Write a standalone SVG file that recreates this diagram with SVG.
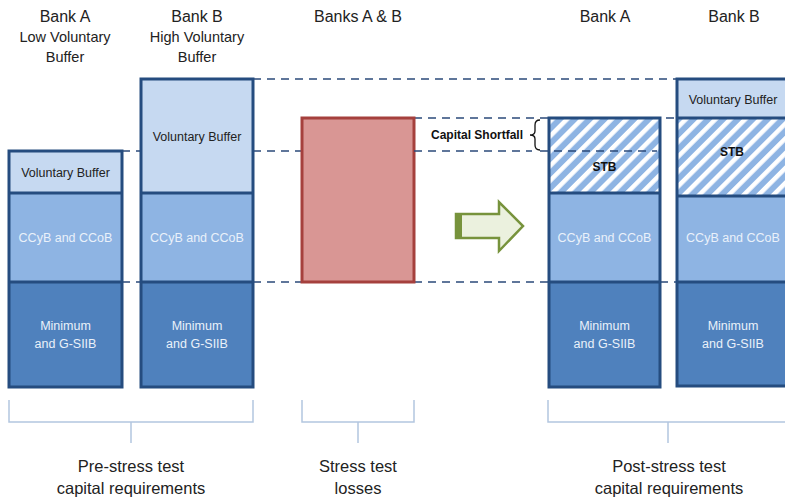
<svg xmlns="http://www.w3.org/2000/svg" width="785" height="497" viewBox="0 0 785 497">
<style>
  text{font-family:"Liberation Sans",Arial,sans-serif}
  .hdr{font-size:16px;fill:#222;text-anchor:middle}
  .sub{font-size:14.5px;fill:#222;text-anchor:middle}
  .vb{fill:#C6D9F1}
  .cc{fill:#8EB4E3}
  .mn{fill:#4F81BD}
  .frame{fill:none;stroke:#254C7F;stroke-width:3}
  .div{stroke:#254C7F;stroke-width:3}
  .tdark{font-size:12.5px;fill:#222;text-anchor:middle}
  .tw{font-size:12.5px;fill:#EAF1FA;text-anchor:middle}
  .tb{font-size:12px;fill:#111;text-anchor:middle;font-weight:bold}
  .dash{stroke:#2B4A7A;stroke-width:1.5;stroke-dasharray:8 6;fill:none}
  .brk{stroke:#B3C6E0;stroke-width:1.5;fill:none}
  .lab{font-size:16.5px;fill:#222;text-anchor:middle}
</style>
<defs>
  <pattern id="hatch" patternUnits="userSpaceOnUse" width="10.5" height="10.5" patternTransform="rotate(45)">
    <rect width="10.5" height="10.5" fill="#8EB4E3"/>
    <rect width="4.5" height="10.5" fill="#FFFFFF"/>
  </pattern>
</defs>

<!-- headers -->
<g id="headers">
  <text class="hdr" x="65" y="22">Bank A</text>
  <text class="sub" x="65" y="42">Low Voluntary</text>
  <text class="sub" x="65" y="62">Buffer</text>
  <text class="hdr" x="197" y="22">Bank B</text>
  <text class="sub" x="197" y="42">High Voluntary</text>
  <text class="sub" x="197" y="62">Buffer</text>
  <text class="hdr" x="358" y="22">Banks A &amp; B</text>
  <text class="hdr" x="605" y="22">Bank A</text>
  <text class="hdr" x="734" y="22">Bank B</text>
</g>

<!-- connectors (dashed reference lines) behind boxes -->
<g id="connectors">
  <line class="dash" x1="253" y1="79" x2="677" y2="79"/>
  <line class="dash" x1="414" y1="118" x2="677" y2="118"/>
  <line class="dash" x1="122" y1="151" x2="141" y2="151"/>
  <line class="dash" x1="253" y1="151" x2="302" y2="151"/>
  <line class="dash" x1="122" y1="282" x2="141" y2="282"/>
  <line class="dash" x1="253" y1="282" x2="302" y2="282"/>
  <line class="dash" x1="414" y1="282" x2="548" y2="282"/>
  <line class="dash" x1="660" y1="282" x2="677" y2="282"/>
</g>

<!-- Bank A pre -->
<g id="bankA-pre">
  <rect class="vb" x="9" y="151" width="113" height="42"/>
  <rect class="cc" x="9" y="193" width="113" height="89"/>
  <rect class="mn" x="9" y="282" width="113" height="105"/>
  <line class="div" x1="9" y1="193" x2="122" y2="193"/>
  <line class="div" x1="9" y1="282" x2="122" y2="282"/>
  <rect class="frame" x="9" y="151" width="113" height="236"/>
  <text class="tdark" x="65.5" y="177">Voluntary Buffer</text>
  <text class="tw" x="65.5" y="242">CCyB and CCoB</text>
  <text class="tw" x="65.5" y="330">Minimum</text>
  <text class="tw" x="65.5" y="348">and G-SIIB</text>
</g>

<!-- Bank B pre -->
<g id="bankB-pre">
  <rect class="vb" x="141" y="79" width="112" height="114"/>
  <rect class="cc" x="141" y="193" width="112" height="89"/>
  <rect class="mn" x="141" y="282" width="112" height="105"/>
  <line class="div" x1="141" y1="193" x2="253" y2="193"/>
  <line class="div" x1="141" y1="282" x2="253" y2="282"/>
  <rect class="frame" x="141" y="79" width="112" height="308"/>
  <text class="tdark" x="197" y="141">Voluntary Buffer</text>
  <text class="tw" x="197" y="242">CCyB and CCoB</text>
  <text class="tw" x="197" y="330">Minimum</text>
  <text class="tw" x="197" y="348">and G-SIIB</text>
</g>

<!-- Stress losses -->
<g id="losses">
  <rect x="302" y="118" width="112" height="164" fill="#D99694" stroke="#A5403D" stroke-width="3"/>
</g>

<!-- Arrow -->
<g id="arrow">
  <path d="M456,214 H499 V202 L523,226 L499,251 V238 H456 Z" fill="#EBF1DE" stroke="#77933C" stroke-width="2.5" stroke-linejoin="miter"/>
  <rect x="456" y="214" width="6" height="24" fill="#77933C"/>
</g>

<!-- Bank A post -->
<g id="bankA-post">
  <rect x="549" y="118" width="111" height="75" fill="url(#hatch)"/>
  <rect class="cc" x="549" y="193" width="111" height="89"/>
  <rect class="mn" x="549" y="282" width="111" height="105"/>
  <line class="div" x1="549" y1="193" x2="660" y2="193"/>
  <line class="div" x1="549" y1="282" x2="660" y2="282"/>
  <rect class="frame" x="549" y="118" width="111" height="269"/>
  <line class="dash" x1="540" y1="151" x2="657" y2="151"/>
  <text class="tb" x="604.5" y="171">STB</text>
  <text class="tw" x="604.5" y="242">CCyB and CCoB</text>
  <text class="tw" x="604.5" y="330">Minimum</text>
  <text class="tw" x="604.5" y="348">and G-SIIB</text>
</g>

<!-- Capital shortfall -->
<g id="shortfall">
  <line class="dash" x1="414" y1="151" x2="532" y2="151"/>
  <path d="M540,120 Q535,120 535,125 V131 Q535,135 530,135 Q535,135 535,139 V145 Q535,150 540,150" fill="none" stroke="#111" stroke-width="1.3"/>
  <text x="523" y="139" font-size="12px" font-weight="bold" fill="#111" text-anchor="end">Capital Shortfall</text>
</g>

<!-- Bank B post -->
<g id="bankB-post">
  <rect class="vb" x="677" y="79" width="120" height="39"/>
  <rect x="677" y="118" width="120" height="78" fill="url(#hatch)"/>
  <rect class="cc" x="677" y="196" width="120" height="86"/>
  <rect class="mn" x="677" y="282" width="120" height="104"/>
  <line class="div" x1="677" y1="118" x2="797" y2="118"/>
  <line class="div" x1="677" y1="196" x2="797" y2="196"/>
  <line class="div" x1="677" y1="282" x2="797" y2="282"/>
  <rect class="frame" x="677" y="79" width="120" height="307"/>
  <text class="tdark" x="733" y="104">Voluntary Buffer</text>
  <text class="tb" x="732" y="156">STB</text>
  <text class="tw" x="733" y="242">CCyB and CCoB</text>
  <text class="tw" x="733" y="330">Minimum</text>
  <text class="tw" x="733" y="348">and G-SIIB</text>
</g>

<!-- bottom brackets and labels -->
<g id="pre-label">
  <path class="brk" d="M9,400 V422 H253 V400 M131,422 V443"/>
  <text class="lab" x="131" y="472">Pre-stress test</text>
  <text class="lab" x="131" y="494">capital requirements</text>
</g>
<g id="loss-label">
  <path class="brk" d="M302,400 V422 H414 V400 M358,422 V443"/>
  <text class="lab" x="358" y="472">Stress test</text>
  <text class="lab" x="358" y="494">losses</text>
</g>
<g id="post-label">
  <path class="brk" d="M548,400 V422 H790 M668,422 V443"/>
  <text class="lab" x="669" y="472">Post-stress test</text>
  <text class="lab" x="669" y="494">capital requirements</text>
</g>
</svg>
